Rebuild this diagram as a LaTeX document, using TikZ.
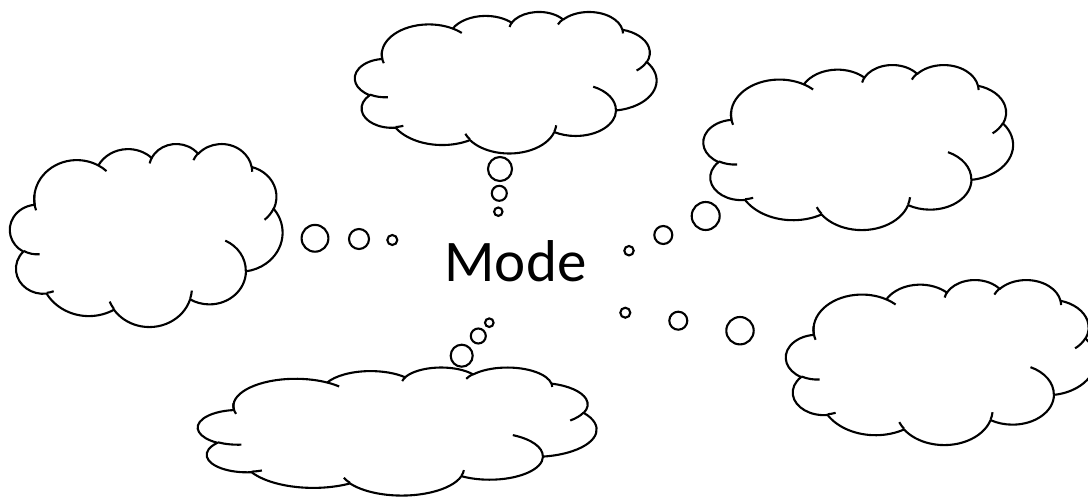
\documentclass[tikz,border=0pt]{standalone}
\usepackage{fontspec}
\setmainfont{Carlito}
\begin{document}
\begin{tikzpicture}[x=1pt,y=-1pt,
  cloudline/.style={draw=black,line width=2.1pt,line join=round,fill=white},
  innerline/.style={draw=black,line width=2.1pt},
  bubble/.style={circle,draw=black,line width=2.1pt,inner sep=0pt,minimum size=#1},
  label/.style={font=\fontsize{59}{70}\selectfont,inner sep=0pt,anchor=base}]
\useasboundingbox (0,0) rectangle (1088,498);
\clip (0,0) rectangle (1088,498);
\foreach \cx/\cy/\cw/\ch in {355/11.5/301.5/141.5, 703.5/64.5/309.5/165, 10/143.4/272.5/183, 198/367.1/398.5/128, 786/279.5/309.5/165}{
\begin{scope}[shift={(\cx,\cy)},xscale=\cw/100,yscale=\ch/100]
  \path[cloudline] (9.028,33.264)
    arc[start angle=172.254,end angle=300.364,x radius=15.632,y radius=21.273]
    arc[start angle=-152.024,end angle=-45.456,x radius=12.345,y radius=16.822]
    arc[start angle=-153.488,end angle=-37.355,x radius=10.104,y radius=13.762]
    arc[start angle=-139.721,end angle=-10.212,x radius=11.243,y radius=15.266]
    arc[start angle=-74.767,end angle=23.211,x radius=12.345,y radius=16.836]
    arc[start angle=-37.527,end angle=81.862,x radius=15.683,y radius=21.343]
    arc[start angle=0.4596,end angle=121.974,x radius=13.391,y radius=18.211]
    arc[start angle=16.844,end angle=146.237,x radius=15.630,y radius=21.331]
    arc[start angle=58.992,end angle=150.181,x radius=17.870,y radius=24.405]
    arc[start angle=83.306,end angle=223.095,x radius=10.093,y radius=13.699]
    arc[start angle=120.346,end angle=264.112,x radius=10.058,y radius=13.762]
    -- cycle;
  \draw[innerline] (10.863,60.595) arc[start angle=85.547,end angle=120.346,x radius=10.058,y radius=13.762];
  \draw[innerline] (16.037,80.785) arc[start angle=68.233,end angle=83.306,x radius=10.093,y radius=13.699];
  \draw[innerline] (38.144,90.486) arc[start angle=146.237,end angle=158.474,x radius=15.630,y radius=21.331];
  \draw[innerline] (66.729,80.442) arc[start angle=4.738,end angle=16.844,x radius=15.630,y radius=21.331];
  \draw[innerline] (79.003,53.134) arc[start angle=-64.041,end angle=0.4596,x radius=13.391,y radius=18.211];
  \draw[innerline] (96.755,35.542) arc[start angle=23.211,end angle=49.641,x radius=12.345,y radius=16.836];
  \draw[innerline] (88.713,12.560) arc[start angle=-10.212,end angle=0.821,x radius=11.243,y radius=15.266];
  \draw[innerline] (67.310,9.148) arc[start angle=-156.289,end angle=-139.721,x radius=11.243,y radius=15.266];
  \draw[innerline] (51.252,10.926) arc[start angle=-167.726,end angle=-153.488,x radius=10.104,y radius=13.762];
  \draw[innerline] (32.407,12.019) arc[start angle=-59.636,end angle=-45.733,x radius=15.632,y radius=21.273];
  \draw[innerline] (9.553,36.549) arc[start angle=162.803,end angle=185.729,x radius=15.632,y radius=21.273];
\end{scope}}
% thought bubbles
\node[bubble=26.8pt] (l1) at (315,238.3) {};
\node[bubble=20pt] (l2) at (359,239) {};
\node[bubble=10pt] (l3) at (392.3,240) {};
\node[bubble=24pt] (t1) at (500,169) {};
\node[bubble=15pt] (t2) at (499.3,193.3) {};
\node[bubble=8.4pt] (t3) at (498.3,211.7) {};
\node[bubble=28pt] (r1) at (705.7,216) {};
\node[bubble=18pt] (r2) at (663.3,235) {};
\node[bubble=9.4pt] (r3) at (629,250.7) {};
\node[bubble=27.4pt] (s1) at (740,330.7) {};
\node[bubble=18pt] (s2) at (678.3,320.7) {};
\node[bubble=10pt] (s3) at (625.3,312.7) {};
\node[bubble=22pt] (b1) at (461.7,355.7) {};
\node[bubble=15pt] (b2) at (478.3,336) {};
\node[bubble=8.6pt] (b3) at (489.3,322.7) {};
\node[label] (mode) at (515.5,281.7) {Mode};
\end{tikzpicture}
\end{document}
